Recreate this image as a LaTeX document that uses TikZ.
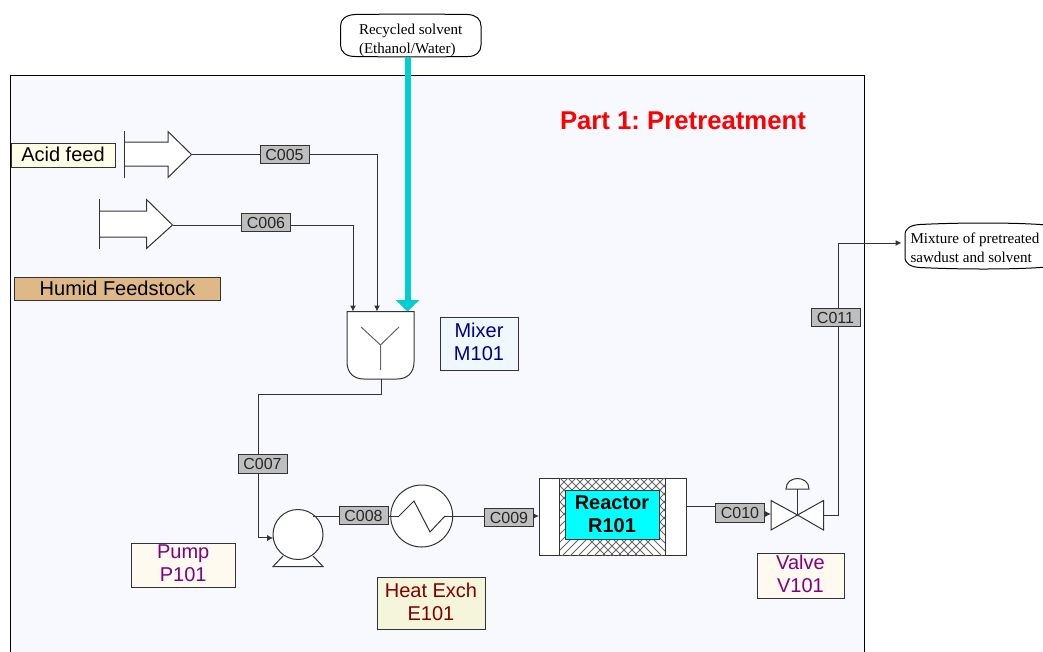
\documentclass[tikz,border=0pt]{standalone}
\usepackage{fontspec}
\setmainfont{Liberation Sans}
\newfontfamily\serifx{Liberation Serif}
\usetikzlibrary{arrows.meta}
\definecolor{panelbg}{HTML}{F8F9FF}
\definecolor{linec}{HTML}{333333}
\definecolor{turq}{HTML}{00CED1}
\definecolor{purecyan}{HTML}{00FFFF}
\definecolor{purered}{HTML}{FF0000}
\definecolor{streamgray}{HTML}{BEBEBE}
\definecolor{acidbg}{HTML}{FFFFE8}
\definecolor{humidbg}{HTML}{DEB887}
\definecolor{mixbg}{HTML}{F0F8FF}
\definecolor{floral}{HTML}{FFFAF0}
\definecolor{beigebg}{HTML}{F5F5DC}
\definecolor{navytxt}{HTML}{000080}
\definecolor{purpletxt}{HTML}{800080}
\definecolor{maroontxt}{HTML}{800000}
\tikzset{
  x=0.75pt,y=-0.75pt,
  sz/.style 2 args={minimum width=#1*0.75pt,minimum height=#2*0.75pt,inner sep=0pt,outer sep=0pt},
  stream/.style={draw=linec,fill=streamgray,sz={49}{18.5},text=black!85,font=\fontsize{12}{14}\selectfont},
  tag/.style={draw=linec,align=center,font=\fontsize{15}{17.25}\selectfont},
  equip/.style={draw=linec,fill=white},
  pipe/.style={draw=linec},
  feedpipe/.style={draw=linec,-{Latex[length=4.5pt,width=4.5pt]}},
  note/.style={align=left,font=\serifx\fontsize{11.3}{14.25}\selectfont,inner sep=0pt},
}
\begin{document}
\frenchspacing
\begin{tikzpicture}[line width=0.75pt]
\clip (0,0) rectangle (1043,651);
\fill[white] (0,0) rectangle (1043,651);
% panel
\draw[black,fill=panelbg] (10.5,75.5) rectangle (864,700);
\node[font=\bfseries\fontsize{19.3}{22}\selectfont,text=purered] (title) at (683,120.5) {Part 1: Pretreatment};

% outside bubbles
\draw[equip,draw=black] (355,14.5) .. controls (390,14) and (435,14) .. (468,14.5)
  .. controls (476,15) and (481,19) .. (481,26) -- (481,45)
  .. controls (481,52) and (476,56.5) .. (468,56.5)
  .. controls (435,57) and (390,57) .. (355,56.5)
  .. controls (346,56.5) and (340.5,52) .. (340.5,45) -- (340.5,26)
  .. controls (340.5,19) and (346,15) .. (355,14.5) -- cycle;
\node[note,anchor=west] (solvent) at (358.5,40) {Recycled solvent\\(Ethanol/Water)};
\draw[equip,draw=black] (920,224.5) .. controls (960,222.5) and (1010,222.5) .. (1040,224.5)
  .. controls (1050,225) and (1056,228) .. (1056,235) -- (1056,258)
  .. controls (1056,265) and (1050,267) .. (1040,267.5)
  .. controls (1010,269.5) and (960,269.5) .. (920,267.5)
  .. controls (911,267) and (905,264) .. (905,257) -- (905,235)
  .. controls (905,228) and (911,225) .. (920,224.5) -- cycle;
\node[note,anchor=west] (product) at (910,247.5) {Mixture of pretreated\\sawdust and solvent};

% feed arrows
\draw[equip] (124.5,142) -- (168,142) -- (168,131.5) -- (191.5,154.5) -- (168,177.5) -- (168,166) -- (124.5,166);
\draw[linec] (124.5,131) -- (124.5,178);
\coordinate (acidtip) at (191.5,154.5);
\draw[equip] (99.5,211) -- (146.5,211) -- (146.5,199.5) -- (172.5,225) -- (146.5,248.5) -- (146.5,237) -- (99.5,237);
\draw[linec] (99.5,199) -- (99.5,249);
\coordinate (humidtip) at (172.5,225);

% mixer
\draw[equip] (347,311.5) -- (414,311.5) -- (414,362) .. controls (414,373) and (407,379) .. (397,379)
  -- (364,379) .. controls (354,379) and (347,373) .. (347,362) -- cycle;
\draw[draw=black!60] (361,327) -- (380.5,345) -- (399,327) (380.5,345) -- (380.5,370);
\coordinate (mixin1) at (353,311.5);
\coordinate (mixin2) at (377,311.5);
\coordinate (mixin3) at (407.5,311.5);
\coordinate (mixout) at (381,379);

% pump
\draw[equip] (283,556) -- (273,566.5) -- (323,566.5) -- (313,556);
\node[equip,circle,sz={50}{50}] (pump) at (298,534.5) {};
\coordinate (pumpout) at (313,516);
% heat exchanger
\node[equip,circle,sz={62}{62}] (hx) at (421.7,516) {};
\coordinate (hxin) at (399,516);
\coordinate (hxout) at (445,516);
\draw[draw=linec] (hxin) -- (414,501) -- (430,532) -- (hxout);
% reactor
\node[equip,sz={147}{77}] (reactor) at (612.5,516.5) {};
\begin{scope}
\clip (559,478) rectangle (665,555);
\foreach \k in {0,8,...,200} {
  \draw[draw=black!60,line width=0.6pt] (520+\k,470) -- (620+\k,570);
  \draw[draw=black!60,line width=0.6pt] (720-\k,470) -- (620-\k,570);
}
\end{scope}
\draw[linec] (559,478) -- (559,555) (665,478) -- (665,555);
\node[draw=linec,fill=purecyan,sz={94}{49},align=center,font=\bfseries\fontsize{15}{17.25}\selectfont] (r101) at (612,514.5) {\raisebox{0.75pt}{Reactor}\\\raisebox{0.75pt}{R101}};
% valve
\draw[equip] (771,500.5) -- (797.5,515) -- (771,530) -- cycle;
\draw[equip] (823.5,500.5) -- (797.5,515) -- (823.5,530) -- cycle;
\draw[linec] (797.5,515) -- (797.5,489);
\draw[equip] (786,489) .. controls (786,475) and (809,475) .. (809,489) -- cycle;
\coordinate (valvein) at (771,514);
\coordinate (valveout) at (823.5,515);

% stream tags
\node[stream] (C005) at (284.5,154.5) {C005};
\node[stream] (C006) at (266,222.5) {C006};
\node[stream] (C007) at (262.5,464) {C007};
\node[stream] (C008) at (363.5,515.5) {C008};
\node[stream] (C009) at (509,517.5) {C009};
\node[stream] (C010) at (740,513) {C010};
\node[stream] (C011) at (835.5,317.5) {C011};

% equipment labels
\node[tag,fill=acidbg,sz={104}{24},text=black] (acid) at (63,155) {\raisebox{0.75pt}{Acid feed}};
\node[tag,fill=humidbg,sz={206}{23},text=black] (humid) at (117.5,288.5) {\raisebox{0.75pt}{Humid Feedstock}};
\node[tag,fill=mixbg,sz={78}{53},text=navytxt] (m101) at (479,343.5) {\raisebox{2.75pt}{Mixer}\\\raisebox{2.75pt}{M101}};
\node[tag,fill=floral,sz={103.5}{44},text=purpletxt] (p101) at (183.25,565) {\raisebox{2.25pt}{Pump}\\\raisebox{2.25pt}{P101}};
\node[tag,fill=beigebg,sz={108}{52},text=maroontxt] (e101) at (431,603) {\raisebox{1.75pt}{Heat Exch}\\\raisebox{1.75pt}{E101}};
\node[tag,fill=floral,sz={87}{45},text=purpletxt] (v101) at (800.5,575.5) {\raisebox{2.25pt}{Valve}\\\raisebox{2.25pt}{V101}};

% connectors
\draw[pipe] (acidtip) -- (C005.west);
\draw[feedpipe] (C005.east) -| (mixin2);
\draw[pipe] (humidtip) -- (C006.west |- humidtip);
\draw[feedpipe] (C006.east |- humidtip) -| (mixin1);
\coordinate (solventout) at (407.5,57);
\draw[draw=turq,line width=4.5pt,-{Triangle[length=8.5pt,width=17pt,fill=turq,color=turq]}] (solventout) -- (mixin3);
\coordinate (j7) at (258.5,394);
\draw[pipe] (mixout) |- (j7) -- (C007.north -| j7);
\draw[feedpipe] (C007.south -| j7) |- (pump.188);
\draw[pipe] (pumpout) -- (C008.west |- pumpout);
\draw[pipe] (C008.east |- hxin) -- (hxin);
\draw[pipe] (hxout) -- (hxout -| C009.west);
\draw[feedpipe] (C009.east |- hxin) -- (hxin -| reactor.west);
\coordinate (j10) at (701,506);
\draw[pipe] (reactor.east |- j10) -- (j10) -- (C010.west |- j10);
\draw[feedpipe] (C010.east |- valvein) -- (valvein);
\coordinate (j11) at (838,243);
\draw[pipe] (valveout) -| (C011.south -| j11);
\coordinate (prodin) at (901.5,243);
\draw[feedpipe] (C011.north -| j11) |- (prodin);
\end{tikzpicture}
\end{document}
